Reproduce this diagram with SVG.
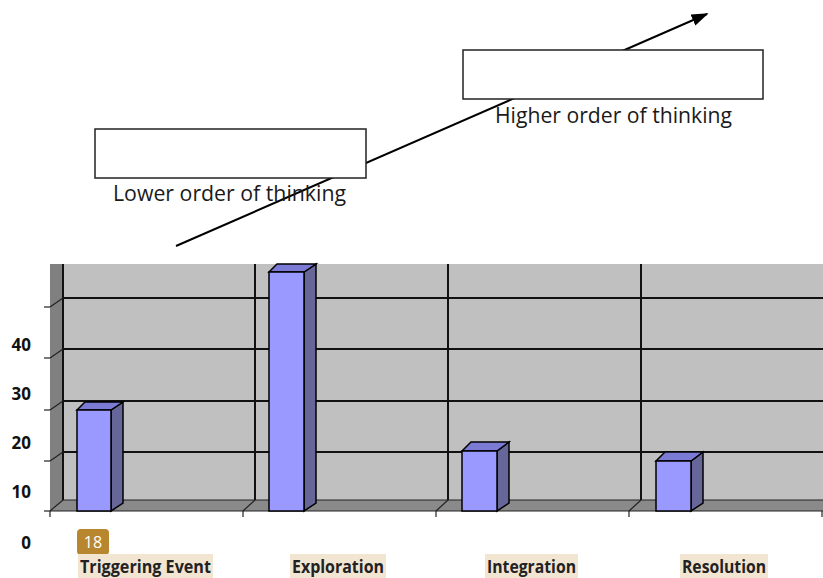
<svg xmlns="http://www.w3.org/2000/svg" width="823" height="578" viewBox="0 0 823 578">
<style>
.grid{stroke:#111;stroke-width:2;fill:none}
.thin{stroke:#222;stroke-width:1.2;fill:none}
.front{fill:#9999FF;stroke:#000;stroke-width:1.5}
.side{fill:#666699;stroke:#000;stroke-width:1.5}
.top{fill:#7B7BD6;stroke:#000;stroke-width:1.5}
.ylab{font-family:"Open Sans","Liberation Sans",Arial,sans-serif;font-weight:bold;font-size:17px;fill:#111;text-anchor:end}
.cat{font-family:"Open Sans","Liberation Sans",sans-serif;font-weight:bold;font-size:17px;fill:#222}
.catbg{fill:#F2E6D3}
.box{fill:#fff;stroke:#222;stroke-width:1.5}
.note{font-family:"Open Sans","Liberation Sans",sans-serif;font-size:21px;fill:#1a1a1a}
</style>
<defs>
<marker id="arr" viewBox="0 0 10 10" refX="9" refY="5" markerWidth="17" markerHeight="12" markerUnits="userSpaceOnUse" orient="auto" preserveAspectRatio="none">
<path d="M0,0 L10,5 L0,10 z" fill="#000"/>
</marker>
</defs>
<rect width="823" height="578" fill="#fff"/>

<g id="chart">
<rect x="63" y="264" width="760" height="236" fill="#C0C0C0"/>
<polygon points="50,264 63,264 63,500 50,511" fill="#808080"/>
<polygon points="63,500 823,500 823,511 50,511" fill="#8A8A8A"/>
<line class="grid" x1="63" y1="298" x2="823" y2="298"/>
<line class="grid" x1="63" y1="349" x2="823" y2="349"/>
<line class="grid" x1="63" y1="401" x2="823" y2="401"/>
<line class="grid" x1="63" y1="452" x2="823" y2="452"/>
<line class="thin" x1="63" y1="500" x2="823" y2="500"/>
<line class="grid" x1="255" y1="264" x2="255" y2="500"/>
<line class="grid" x1="448" y1="264" x2="448" y2="500"/>
<line class="grid" x1="641" y1="264" x2="641" y2="500"/>
<line class="grid" x1="63" y1="264" x2="63" y2="500"/>
<line class="thin" x1="50" y1="307" x2="63" y2="298"/>
<line class="thin" x1="50" y1="358" x2="63" y2="349"/>
<line class="thin" x1="50" y1="410" x2="63" y2="401"/>
<line class="thin" x1="50" y1="461" x2="63" y2="452"/>
<line class="thin" x1="50" y1="511" x2="63" y2="500"/>
<line class="thin" x1="243" y1="511" x2="255" y2="500"/>
<line class="thin" x1="436" y1="511" x2="448" y2="500"/>
<line class="thin" x1="629" y1="511" x2="641" y2="500"/>
<line class="thin" x1="44" y1="307" x2="50" y2="307"/>
<line class="thin" x1="44" y1="358" x2="50" y2="358"/>
<line class="thin" x1="44" y1="410" x2="50" y2="410"/>
<line class="thin" x1="44" y1="461" x2="50" y2="461"/>
<line class="thin" x1="44" y1="511" x2="50" y2="511"/>
<line class="thin" x1="50" y1="511" x2="823" y2="511"/>
<line class="thin" x1="50" y1="511" x2="50" y2="517"/>
<line class="thin" x1="243" y1="511" x2="243" y2="517"/>
<line class="thin" x1="436" y1="511" x2="436" y2="517"/>
<line class="thin" x1="629" y1="511" x2="629" y2="517"/>
<line class="thin" x1="822" y1="511" x2="822" y2="517"/>
</g>

<g id="bar-triggering">
<polygon class="side" points="111,410 123,402 123,503 111,511"/>
<polygon class="top" points="77,410 85,402 123,402 111,410"/>
<rect class="front" x="77" y="410" width="34" height="101"/>
</g>
<g id="bar-exploration">
<polygon class="side" points="304,272 316,264 316,503 304,511"/>
<polygon class="top" points="269,272 277,264 316,264 304,272"/>
<rect class="front" x="269" y="272" width="35" height="239"/>
</g>
<g id="bar-integration">
<polygon class="side" points="497,451 509,442 509,503 497,511"/>
<polygon class="top" points="462,451 471,442 509,442 497,451"/>
<rect class="front" x="462" y="451" width="35" height="60"/>
</g>
<g id="bar-resolution">
<polygon class="side" points="691,461 703,452 703,503 691,511"/>
<polygon class="top" points="656,461 665,452 703,452 691,461"/>
<rect class="front" x="656" y="461" width="35" height="50"/>
</g>

<g id="y-labels">
<text class="ylab" x="31" y="351">40</text>
<text class="ylab" x="31" y="400">30</text>
<text class="ylab" x="31" y="449">20</text>
<text class="ylab" x="31" y="498">10</text>
<text class="ylab" x="31" y="549">0</text>
</g>

<g id="badge">
<rect x="77" y="529" width="32" height="26" rx="4" fill="#B8862F"/>
<text x="93" y="548" text-anchor="middle" font-family="Open Sans,Liberation Sans,sans-serif" font-size="16" fill="#fff">18</text>
</g>

<g id="cat-triggering">
<rect class="catbg" x="78" y="554" width="135" height="24"/>
<text class="cat" x="80" y="573" textLength="131" lengthAdjust="spacingAndGlyphs">Triggering Event</text>
</g>
<g id="cat-exploration">
<rect class="catbg" x="290" y="554" width="96" height="24"/>
<text class="cat" x="292" y="573" textLength="92" lengthAdjust="spacingAndGlyphs">Exploration</text>
</g>
<g id="cat-integration">
<rect class="catbg" x="485" y="554" width="93" height="24"/>
<text class="cat" x="487" y="573" textLength="89" lengthAdjust="spacingAndGlyphs">Integration</text>
</g>
<g id="cat-resolution">
<rect class="catbg" x="680" y="554" width="88" height="24"/>
<text class="cat" x="682" y="573" textLength="84" lengthAdjust="spacingAndGlyphs">Resolution</text>
</g>

<g id="connectors">
<line x1="176" y1="246" x2="707" y2="14" stroke="#000" stroke-width="2" marker-end="url(#arr)"/>
</g>

<g id="lower-box">
<rect class="box" x="95" y="129" width="271" height="49"/>
<text class="note" x="113" y="201" textLength="233" lengthAdjust="spacingAndGlyphs">Lower order of thinking</text>
</g>
<g id="higher-box">
<rect class="box" x="463" y="50" width="300" height="49"/>
<text class="note" x="495" y="123" textLength="237" lengthAdjust="spacingAndGlyphs">Higher order of thinking</text>
</g>
</svg>
